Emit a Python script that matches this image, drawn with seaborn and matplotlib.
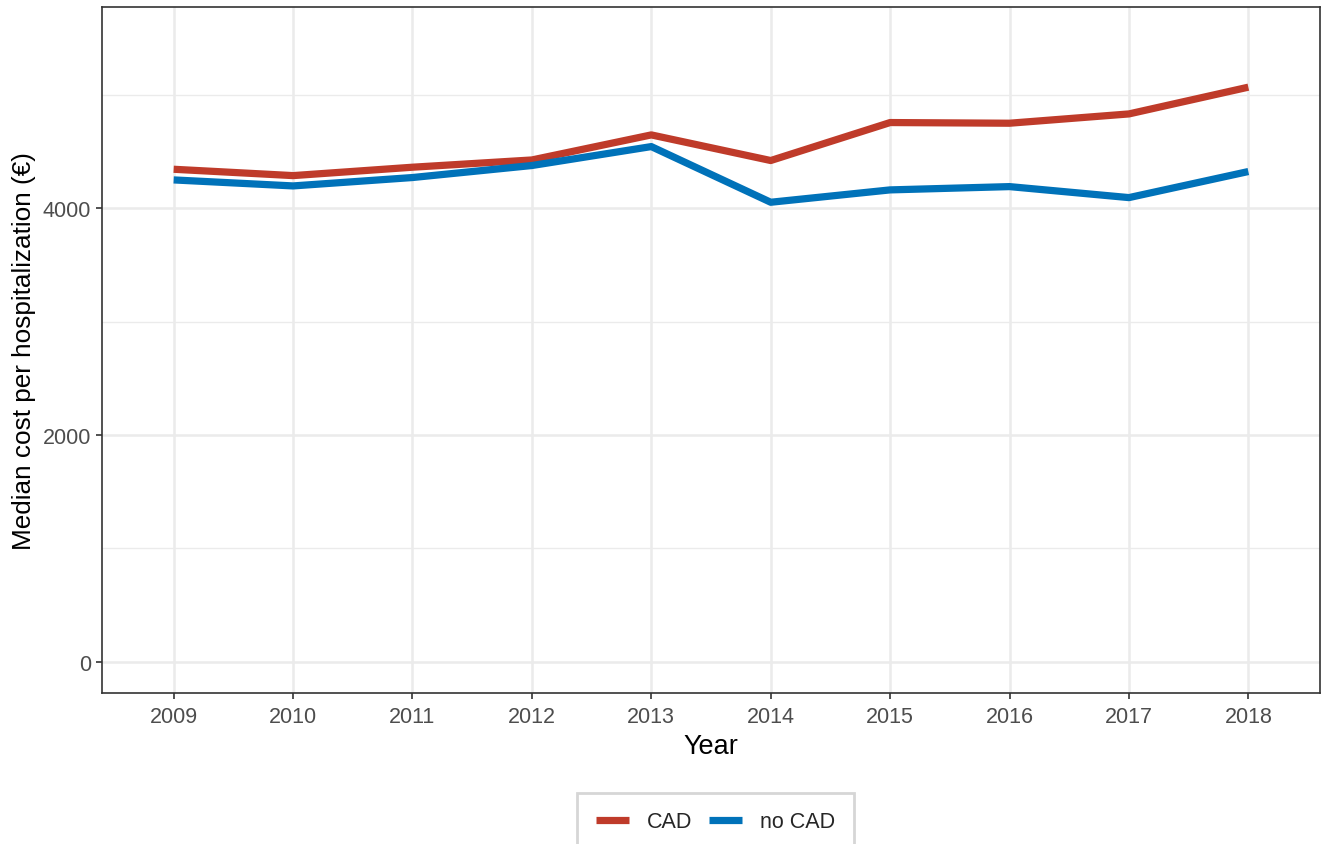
import matplotlib
matplotlib.use("Agg")
import matplotlib.pyplot as plt
import seaborn as sns
import pandas as pd
from matplotlib.ticker import MultipleLocator

years = [2009, 2010, 2011, 2012, 2013, 2014, 2015, 2016, 2017, 2018]
cad = [4344, 4288, 4362, 4426, 4647, 4421, 4756, 4750, 4832, 5068]
no_cad = [4250, 4197, 4271, 4377, 4544, 4053, 4162, 4191, 4094, 4324]
groups = ["CAD", "no CAD"]
colors = ["#BF3B2A", "#0072B9"]

df = pd.DataFrame({
    "Year": years * 2,
    "cost": cad + no_cad,
    "group": [groups[0]] * len(years) + [groups[1]] * len(years),
})

sns.set_style("white")
plt.rcParams["font.family"] = ["Liberation Sans", "DejaVu Sans"]

fig = plt.figure(figsize=(13.22, 8.45), dpi=100)
ax = fig.add_axes([102/1322, 1 - 694/845, (1320-102)/1322, (694-8)/845])

sns.lineplot(data=df, x="Year", y="cost", hue="group", palette=colors,
             hue_order=groups, linewidth=5.2, ax=ax, legend=True)
for ln in ax.get_lines():
    ln.set_solid_capstyle("butt")
    ln.set_solid_joinstyle("round")

ax.set_xlim(2008.4, 2018.6)
ax.set_ylim(-275, 5775)
ax.set_xticks(years)
ax.set_xticklabels([str(y) for y in years])
ax.yaxis.set_major_locator(MultipleLocator(2000))
ax.yaxis.set_minor_locator(MultipleLocator(1000))
ax.grid(which="major", color="#EBEBEB", linewidth=1.8)
ax.grid(which="minor", axis="y", color="#EBEBEB", linewidth=1.0)
ax.set_axisbelow(True)
for s in ax.spines.values():
    s.set_color("#333333")
    s.set_linewidth(1.2)
ax.tick_params(axis="both", which="major", length=4.5, width=1.2, color="#333333",
               labelcolor="#4D4D4D", labelsize=15.5, pad=3.5, bottom=True, left=True)
ax.tick_params(axis="x", which="major", pad=5)
ax.tick_params(axis="y", which="minor", length=0)
ax.set_xlabel("Year", fontsize=19.5, color="black", labelpad=4)
ax.set_ylabel("Median cost per hospitalization (€)", fontsize=18.8, color="black", labelpad=5)

handles, labels = ax.get_legend_handles_labels()
ax.legend_.remove()
leg = fig.legend(handles, labels, loc="upper center",
                 bbox_to_anchor=(715.5/1322, 1 - 783/845), ncol=2, frameon=True,
                 fontsize=15.5, handlelength=1.53, handletextpad=0.84,
                 columnspacing=0.79, borderpad=0.85, fancybox=False)
leg.get_frame().set_edgecolor("#CCCCCC")
leg.get_frame().set_linewidth(2)
for h in leg.get_lines():
    h.set_linewidth(5.2)
    h.set_solid_capstyle("butt")

fig.savefig("out.png", dpi=100)
